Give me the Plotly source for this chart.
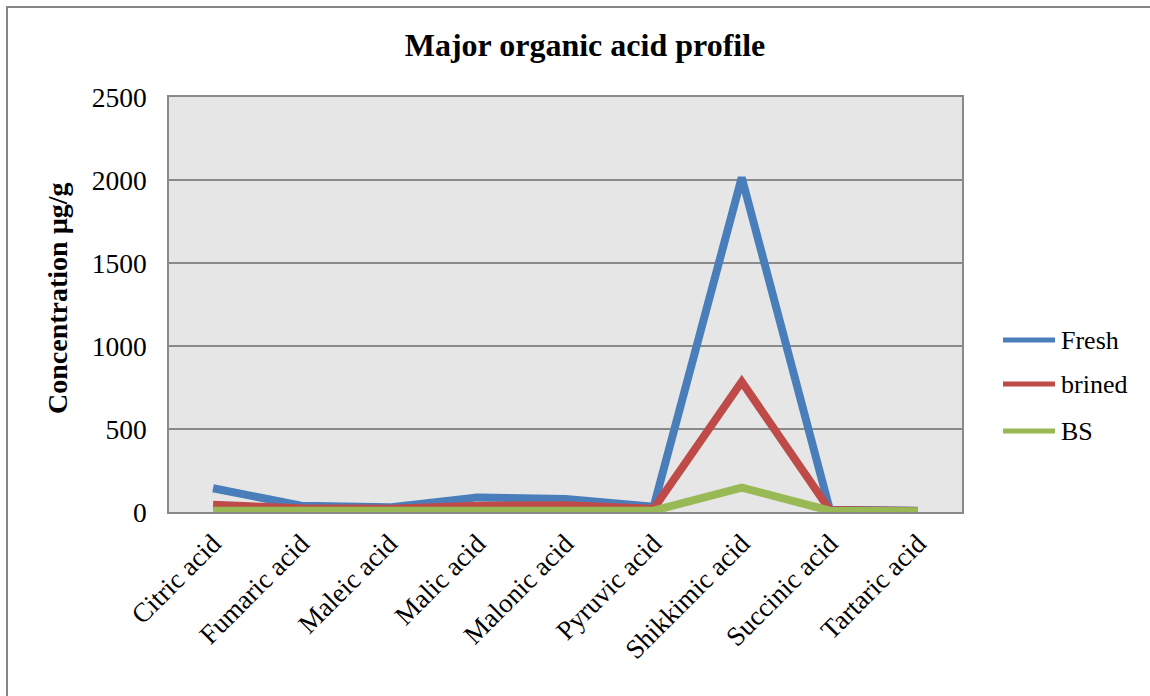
import plotly.graph_objects as go

# Organic acid concentrations (µg/g) per treatment
acids = ["Citric acid", "Fumaric acid", "Maleic acid", "Malic acid", "Malonic acid",
         "Pyruvic acid", "Shikkimic acid", "Succinic acid", "Tartaric acid"]
fresh = [143, 38, 28, 88, 78, 32, 2015, 14, 8]
brined = [44, 22, 20, 38, 40, 20, 785, 12, 6]
bs = [8, 8, 8, 8, 8, 8, 147, 8, 5]

series_names = ["Fresh", "brined", "BS"]
series_values = [fresh, brined, bs]
series_colors = ["#4A7EBB", "#BE4B48", "#98B954"]

y_ticks = [0, 500, 1000, 1500, 2000, 2500]

FONT = "Liberation Serif, Times New Roman, serif"

W, H = 1150, 696
L, R, T, B = 169, 188, 97, 184
plot_w = W - L - R
plot_h = H - T - B

def px_x(p):
    return (p - L) / plot_w

def px_y(p):
    return (H - B - p) / plot_h

fig = go.Figure()
for name, vals, col in zip(series_names, series_values, series_colors):
    fig.add_trace(go.Scatter(
        x=acids, y=vals, name=name, mode="lines",
        line=dict(color=col, width=8), showlegend=False,
    ))

shapes = []
annotations = []

# outer chart frame
shapes.append(dict(type="rect", xref="paper", yref="paper",
                   x0=px_x(7), x1=px_x(1170), y0=px_y(720), y1=px_y(7),
                   line=dict(color="#868686", width=2), fillcolor="rgba(0,0,0,0)",
                   layer="below"))

# legend entries
legend_y = [340, 384, 431]
for name, col, ly in zip(series_names, series_colors, legend_y):
    shapes.append(dict(type="line", xref="paper", yref="paper",
                       x0=px_x(1003), x1=px_x(1055), y0=px_y(ly), y1=px_y(ly),
                       line=dict(color=col, width=5)))
    annotations.append(dict(xref="paper", yref="paper", x=px_x(1059), y=px_y(ly),
                            text=name, showarrow=False, xanchor="left", yanchor="middle",
                            font=dict(family=FONT, size=26, color="#000000")))

# vertical axis title
annotations.append(dict(xref="paper", yref="paper", x=px_x(57), y=px_y(298),
                        text="<b>Concentration µg/g</b>", showarrow=False, textangle=-90,
                        xanchor="center", yanchor="middle",
                        font=dict(family=FONT, size=28, color="#000000")))

fig.update_layout(
    width=W, height=H,
    margin=dict(l=L, r=R, t=T, b=B, pad=0),
    paper_bgcolor="#FFFFFF",
    plot_bgcolor="#E6E6E6",
    title=dict(text="<b>Major organic acid profile</b>", x=585 / W, xanchor="center",
               y=1 - 45 / H, yanchor="middle",
               font=dict(family=FONT, size=32, color="#000000")),
    font=dict(family=FONT, size=27, color="#000000"),
    shapes=shapes,
    annotations=annotations,
    xaxis=dict(
        type="category", range=[-0.5, len(acids) - 0.5], tickangle=-45,
        showgrid=False, zeroline=False,
        showline=True, linecolor="#898989", linewidth=2, mirror=True,
        ticks="", tickfont=dict(family=FONT, size=27, color="#000000"),
        ticklabelstandoff=3,
    ),
    yaxis=dict(
        range=[0, 2500], tickvals=y_ticks, showgrid=True, gridcolor="#898989",
        gridwidth=1.5, zeroline=False, showline=True, linecolor="#898989",
        linewidth=1.5, mirror=True, ticks="",
        tickfont=dict(family=FONT, size=27.5, color="#000000"),
        ticklabelstandoff=15,
    ),
)

fig.write_html("out.html")
